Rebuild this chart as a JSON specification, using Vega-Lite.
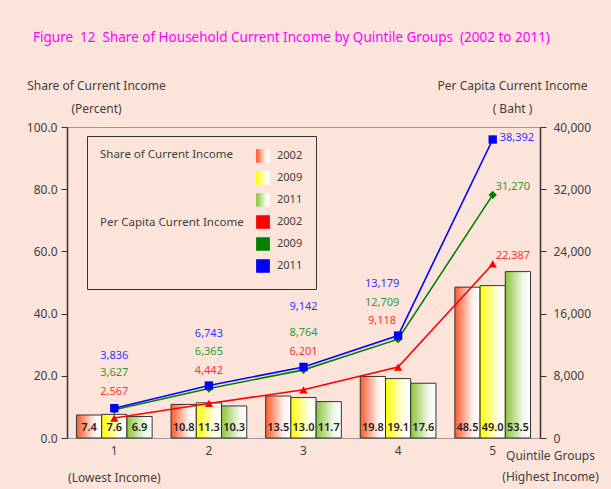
{
  "$schema": "https://vega.github.io/schema/vega-lite/v6.json",
  "width": 473,
  "height": 311,
  "autosize": {"type": "none"},
  "padding": {"left": 67, "top": 127, "right": 71, "bottom": 51},
  "background": "#FCE4DA",
  "title": {
    "text": "Figure\u00a0\u00a012\u00a0\u00a0Share of Household Current Income by Quintile Groups\u00a0\u00a0(2002 to 2011)",
    "anchor": "start",
    "frame": "group",
    "dx": -34,
    "offset": 35,
    "color": "#FF00FF",
    "fontSize": 13.5,
    "fontWeight": "normal"
  },
  "config": {
    "font": "Noto Sans",
    "view": {"stroke": "#999999", "strokeWidth": 1},
    "axis": {
      "grid": false,
      "labelColor": "#404040",
      "labelFontSize": 12,
      "titleColor": "#404040",
      "titleFontSize": 12,
      "titleFontWeight": "normal",
      "domainColor": "#333333",
      "tickColor": "#333333"
    }
  },
  "datasets": {
    "shares": [
      {"quintile": 1, "series": "Share 2002", "share": 7.4},
      {"quintile": 1, "series": "Share 2009", "share": 7.6},
      {"quintile": 1, "series": "Share 2011", "share": 6.9},
      {"quintile": 2, "series": "Share 2002", "share": 10.8},
      {"quintile": 2, "series": "Share 2009", "share": 11.3},
      {"quintile": 2, "series": "Share 2011", "share": 10.3},
      {"quintile": 3, "series": "Share 2002", "share": 13.5},
      {"quintile": 3, "series": "Share 2009", "share": 13.0},
      {"quintile": 3, "series": "Share 2011", "share": 11.7},
      {"quintile": 4, "series": "Share 2002", "share": 19.8},
      {"quintile": 4, "series": "Share 2009", "share": 19.1},
      {"quintile": 4, "series": "Share 2011", "share": 17.6},
      {"quintile": 5, "series": "Share 2002", "share": 48.5},
      {"quintile": 5, "series": "Share 2009", "share": 49.0},
      {"quintile": 5, "series": "Share 2011", "share": 53.5}
    ],
    "income": [
      {"quintile": 1, "series": "Per Capita 2002", "income": 2567},
      {"quintile": 1, "series": "Per Capita 2009", "income": 3627},
      {"quintile": 1, "series": "Per Capita 2011", "income": 3836},
      {"quintile": 2, "series": "Per Capita 2002", "income": 4442},
      {"quintile": 2, "series": "Per Capita 2009", "income": 6365},
      {"quintile": 2, "series": "Per Capita 2011", "income": 6743},
      {"quintile": 3, "series": "Per Capita 2002", "income": 6201},
      {"quintile": 3, "series": "Per Capita 2009", "income": 8764},
      {"quintile": 3, "series": "Per Capita 2011", "income": 9142},
      {"quintile": 4, "series": "Per Capita 2002", "income": 9118},
      {"quintile": 4, "series": "Per Capita 2009", "income": 12709},
      {"quintile": 4, "series": "Per Capita 2011", "income": 13179},
      {"quintile": 5, "series": "Per Capita 2002", "income": 22387},
      {"quintile": 5, "series": "Per Capita 2009", "income": 31270},
      {"quintile": 5, "series": "Per Capita 2011", "income": 38392}
    ]
  },
  "layer": [
    {
      "data": {"name": "shares"},
      "encoding": {
        "x": {
          "field": "quintile",
          "type": "ordinal",
          "scale": {"paddingInner": 0.2, "paddingOuter": 0.1},
          "axis": {
            "orient": "bottom",
            "labelAngle": 0,
            "ticks": false,
            "domainColor": "#999999",
            "labelPadding": 7,
            "labelBaseline": "top",
            "labelLineHeight": 27,
            "labelExpr": "datum.value == 1 ? ['1', '(Lowest Income)'] : datum.label",
            "title": ["Quintile Groups", "(Highest Income)"],
            "titleX": 483,
            "titleY": 12,
            "titleAlign": "center",
            "titleBaseline": "top",
            "titleLineHeight": 21
          }
        },
        "xOffset": {
          "field": "series",
          "type": "nominal",
          "scale": {"domain": ["Share 2002", "Share 2009", "Share 2011"]}
        }
      },
      "layer": [
        {
          "mark": {"type": "bar", "stroke": "#333333", "strokeWidth": 1},
          "encoding": {
            "y": {
              "field": "share",
              "type": "quantitative",
              "scale": {"domain": [0, 100]},
              "axis": {
                "orient": "left",
                "values": [0, 20, 40, 60, 80, 100],
                "format": ".1f",
                "tickSize": 6,
                "labelPadding": 4,
                "domainWidth": 1.5,
                "title": ["Share of Current Income", "(Percent)"],
                "titleAngle": 0,
                "titleAlign": "center",
                "titleBaseline": "top",
                "titleX": 29,
                "titleY": -47,
                "titleLineHeight": 23
              }
            },
            "color": {
              "field": "series",
              "type": "nominal",
              "scale": {
                "domain": ["Share 2002", "Share 2009", "Share 2011", "Per Capita 2002", "Per Capita 2009", "Per Capita 2011"],
                "range": [
                  {"expr": "{gradient: 'linear', x1: 0, y1: 0, x2: 1, y2: 0, stops: [{offset: 0, color: '#FF5A2A'}, {offset: 0.7, color: '#FFF0EE'}, {offset: 1, color: '#FFFFFF'}]}"},
                  {"expr": "{gradient: 'linear', x1: 0, y1: 0, x2: 1, y2: 0, stops: [{offset: 0, color: '#FFFF00'}, {offset: 0.7, color: '#FFFFE6'}, {offset: 1, color: '#FFFFFF'}]}"},
                  {"expr": "{gradient: 'linear', x1: 0, y1: 0, x2: 1, y2: 0, stops: [{offset: 0, color: '#8DC43A'}, {offset: 0.7, color: '#F0F8EA'}, {offset: 1, color: '#FFFFFF'}]}"},
                  "#FF0000",
                  "#008000",
                  "#0000FF"
                ]
              },
              "legend": {
                "orient": "none",
                "legendX": 20,
                "legendY": 9,
                "title": ["Share of Current Income", "Per Capita Current Income"],
                "titleOrient": "left",
                "titleAnchor": "start",
                "titleFontSize": 11.5,
                "titleFontWeight": "normal",
                "titleColor": "#404040",
                "titleLineHeight": 68,
                "titlePadding": 12,
                "titleLimit": 300,
                "labelExpr": "slice(datum.label, -4)",
                "labelFontSize": 11,
                "labelColor": "#404040",
                "labelOffset": 7,
                "symbolSize": 150,
                "symbolType": "square",
                "rowPadding": 2,
                "padding": 13,
                "strokeColor": "#333333"
              }
            }
          }
        },
        {
          "mark": {"type": "text", "baseline": "middle", "dy": -10, "fontSize": 11, "color": "#222222", "fontWeight": 600},
          "encoding": {
            "y": {"datum": 0, "type": "quantitative"},
            "text": {"field": "share", "type": "quantitative", "format": ".1f"}
          }
        }
      ]
    },
    {
      "data": {"name": "income"},
      "encoding": {
        "x": {"field": "quintile", "type": "ordinal"},
        "y": {
          "field": "income",
          "type": "quantitative",
          "scale": {"domain": [0, 40000]},
          "axis": {
            "orient": "right",
            "values": [0, 8000, 16000, 24000, 32000, 40000],
            "format": ",d",
            "tickSize": 6,
            "labelPadding": 7,
            "domainWidth": 1.5,
            "title": ["Per Capita Current Income", "( Baht )"],
            "titleAngle": 0,
            "titleAlign": "center",
            "titleBaseline": "top",
            "titleX": -28,
            "titleY": -47,
            "titleLineHeight": 23
          }
        }
      },
      "layer": [
        {
          "mark": {"type": "line", "strokeWidth": 1.6},
          "encoding": {"color": {"field": "series", "type": "nominal"}}
        },
        {
          "mark": {"type": "point", "filled": true, "opacity": 1, "size": 70},
          "encoding": {
            "color": {"field": "series", "type": "nominal"},
            "shape": {
              "field": "series",
              "type": "nominal",
              "scale": {"domain": ["Per Capita 2002", "Per Capita 2009", "Per Capita 2011"], "range": ["triangle-up", "diamond", "square"]},
              "legend": null
            }
          }
        },
        {
          "transform": [{"filter": "datum.quintile == 1 && datum.series == 'Per Capita 2002'"}],
          "mark": {"type": "text", "dy": -26, "fontSize": 11, "color": "#FF3333"},
          "encoding": {"text": {"field": "income", "type": "quantitative", "format": ",d"}}
        },
        {
          "transform": [{"filter": "datum.quintile == 2 && datum.series == 'Per Capita 2002'"}],
          "mark": {"type": "text", "dy": -32, "fontSize": 11, "color": "#FF3333"},
          "encoding": {"text": {"field": "income", "type": "quantitative", "format": ",d"}}
        },
        {
          "transform": [{"filter": "datum.quintile == 3 && datum.series == 'Per Capita 2002'"}],
          "mark": {"type": "text", "dy": -38, "fontSize": 11, "color": "#FF3333"},
          "encoding": {"text": {"field": "income", "type": "quantitative", "format": ",d"}}
        },
        {
          "transform": [{"filter": "datum.quintile == 4 && datum.series == 'Per Capita 2002'"}],
          "mark": {"type": "text", "dx": -16, "dy": -46, "fontSize": 11, "color": "#FF3333"},
          "encoding": {"text": {"field": "income", "type": "quantitative", "format": ",d"}}
        },
        {
          "transform": [{"filter": "datum.quintile < 4 && datum.series == 'Per Capita 2009'"}],
          "mark": {"type": "text", "dy": -37, "fontSize": 11, "color": "#339933"},
          "encoding": {"text": {"field": "income", "type": "quantitative", "format": ",d"}}
        },
        {
          "transform": [{"filter": "datum.quintile == 4 && datum.series == 'Per Capita 2009'"}],
          "mark": {"type": "text", "dx": -16, "dy": -36, "fontSize": 11, "color": "#339933"},
          "encoding": {"text": {"field": "income", "type": "quantitative", "format": ",d"}}
        },
        {
          "transform": [{"filter": "datum.quintile < 3 && datum.series == 'Per Capita 2011'"}],
          "mark": {"type": "text", "dy": -52, "fontSize": 11, "color": "#3333FF"},
          "encoding": {"text": {"field": "income", "type": "quantitative", "format": ",d"}}
        },
        {
          "transform": [{"filter": "datum.quintile == 3 && datum.series == 'Per Capita 2011'"}],
          "mark": {"type": "text", "dy": -60, "fontSize": 11, "color": "#3333FF"},
          "encoding": {"text": {"field": "income", "type": "quantitative", "format": ",d"}}
        },
        {
          "transform": [{"filter": "datum.quintile == 4 && datum.series == 'Per Capita 2011'"}],
          "mark": {"type": "text", "dx": -16, "dy": -52, "fontSize": 11, "color": "#3333FF"},
          "encoding": {"text": {"field": "income", "type": "quantitative", "format": ",d"}}
        },
        {
          "transform": [{"filter": "datum.quintile == 5 && datum.series == 'Per Capita 2002'"}],
          "mark": {"type": "text", "align": "left", "dx": 3, "dy": -8, "fontSize": 11, "color": "#FF3333"},
          "encoding": {"text": {"field": "income", "type": "quantitative", "format": ",d"}}
        },
        {
          "transform": [{"filter": "datum.quintile == 5 && datum.series == 'Per Capita 2009'"}],
          "mark": {"type": "text", "align": "left", "dx": 3, "dy": -8, "fontSize": 11, "color": "#339933"},
          "encoding": {"text": {"field": "income", "type": "quantitative", "format": ",d"}}
        },
        {
          "transform": [{"filter": "datum.quintile == 5 && datum.series == 'Per Capita 2011'"}],
          "mark": {"type": "text", "align": "left", "dx": 7, "dy": -2, "fontSize": 11, "color": "#3333FF"},
          "encoding": {"text": {"field": "income", "type": "quantitative", "format": ",d"}}
        }
      ]
    }
  ],
  "resolve": {"scale": {"y": "independent"}, "axis": {"y": "independent"}}
}
